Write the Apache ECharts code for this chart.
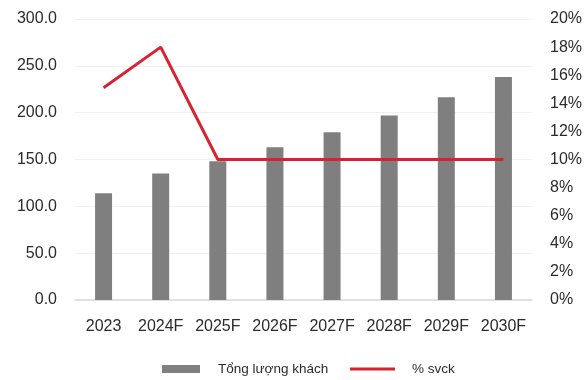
<!DOCTYPE html>
<html>
<head>
<meta charset="utf-8">
<script src="https://cdn.jsdelivr.net/npm/echarts@6/dist/echarts.min.js"></script>
<style>
  html, body { margin: 0; padding: 0; background: #fff; }
  #chart { width: 587px; height: 380px; }
</style>
</head>
<body>
<div id="chart"></div>
<script>
// Visitor totals and year-over-year growth, 2023 to 2030 forecast
const categories = ['2023', '2024F', '2025F', '2026F', '2027F', '2028F', '2029F', '2030F'];
const totalVisitors = [114, 135, 148, 163, 179, 197, 216.5, 238];
const growthPct = [15.1, 18.0, 10, 10, 10, 10, 10, 10];
const leftTicks = { min: 0, max: 300, interval: 50 };
const rightTicks = { min: 0, max: 20, interval: 2 };

const FONT = "'Liberation Sans', Arial, sans-serif";
const TEXT = '#2b2b2b';
const RED = '#d9222f';

const chart = echarts.init(document.getElementById('chart'));
chart.setOption({
  animation: false,
  textStyle: { fontFamily: FONT },
  grid: { left: 75, right: 55, top: 19, bottom: 80 },
  legend: [
    {
      data: [{ name: 'Tổng lượng khách', icon: 'rect' }],
      left: 162, top: 362, padding: 0,
      itemWidth: 38, itemHeight: 8,
      textStyle: { fontFamily: FONT, fontSize: 13.5, color: TEXT, padding: [0, 0, 0, 13] }
    },
    {
      data: [{ name: '% svck', icon: 'rect', itemStyle: { color: RED } }],
      left: 350, top: 362, padding: 0,
      itemWidth: 45, itemHeight: 3,
      textStyle: { fontFamily: FONT, fontSize: 13.5, color: TEXT, padding: [0, 0, 0, 12] }
    }
  ],
  xAxis: {
    type: 'category',
    data: categories,
    axisLine: { lineStyle: { color: '#d9d9d9', width: 1.5 } },
    axisTick: { show: false },
    axisLabel: { color: TEXT, fontSize: 16, margin: 19, interval: 0, fontFamily: FONT }
  },
  yAxis: [
    {
      type: 'value',
      min: leftTicks.min, max: leftTicks.max, interval: leftTicks.interval,
      axisLine: { show: false },
      axisTick: { show: false },
      splitLine: { lineStyle: { color: '#f0f0f0', width: 1 } },
      axisLabel: {
        color: TEXT, fontSize: 16, margin: 18, fontFamily: FONT,
        formatter: v => v.toFixed(1)
      }
    },
    {
      type: 'value',
      min: rightTicks.min, max: rightTicks.max, interval: rightTicks.interval,
      axisLine: { show: false },
      axisTick: { show: false },
      splitLine: { show: false },
      axisLabel: {
        color: TEXT, fontSize: 16, margin: 18, fontFamily: FONT,
        formatter: v => v + '%'
      }
    }
  ],
  series: [
    {
      name: 'Tổng lượng khách',
      type: 'bar',
      data: totalVisitors,
      barWidth: 17,
      itemStyle: { color: '#7f7f7f' }
    },
    {
      name: '% svck',
      type: 'line',
      yAxisIndex: 1,
      data: growthPct,
      symbol: 'none',
      lineStyle: { color: RED, width: 3 },
      itemStyle: { color: RED }
    }
  ]
});
</script>
</body>
</html>
